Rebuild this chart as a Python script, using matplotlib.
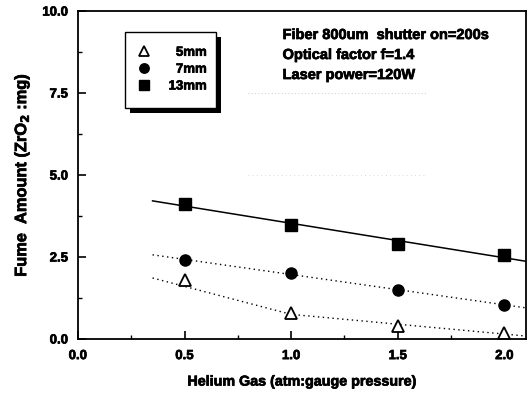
#!/usr/bin/env python3

import numpy as np
import matplotlib
matplotlib.use("Agg")
import matplotlib.pyplot as plt
import matplotlib.patheffects as pe
from matplotlib.patches import Rectangle

########################################################################################################################

pressure = [0.5, 1.0, 1.5, 2.0]
fume5 = [1.80, 0.79, 0.40, 0.18]
fume7 = [2.41, 2.00, 1.49, 1.04]
fume13 = [4.12, 3.48, 2.90, 2.56]

# dotted curve through the 5mm points
curve5_x = [0.35, 1.0, 1.5, 2.1]
curve5_y = [1.86, 0.75, 0.45, 0.09]

labels = ['\u20075mm', '\u20077mm', '13mm']
notes = ['Fiber 800um  shutter on=200s', 'Optical factor f=1.4', 'Laser power=120W']

########################################################################################################################

plt.rcParams['font.family'] = ['Liberation Sans', 'DejaVu Sans']
plt.rcParams['font.weight'] = 'bold'
heavy = [pe.withStroke(linewidth=0.5, foreground='black')]

fig = plt.figure(figsize=(5.3, 3.96), dpi=100)
ax = fig.add_axes([0.147, 0.144, 0.845, 0.828])

fitX = np.array([0.35, 2.1])
k13 = np.polyfit(pressure, fume13, 1)
k7 = np.polyfit(pressure, fume7, 1)
ax.plot(fitX, np.polyval(k13, fitX), color='black', lw=1.1)
ax.plot(fitX, np.polyval(k7, fitX), color='black', lw=1.0, ls=(0, (1, 2.5)))
ax.plot(curve5_x, curve5_y, color='black', lw=1.0, ls=(0, (1, 2.5)))

h5, = ax.plot(pressure, fume5, ls='none', marker='^', ms=8, mfc='white', mec='black', mew=1.3)
h7, = ax.plot(pressure, fume7, ls='none', marker='o', ms=8, mfc='black', mec='black')
h13, = ax.plot(pressure, fume13, ls='none', marker='s', ms=8, mfc='black', mec='black')

# faint scan grid remnants
ax.axhline(7.5, xmin=0.38, xmax=0.78, color='#bbbbbb', lw=0.6, ls=(0, (1, 3)))
ax.axhline(5.0, xmin=0.38, xmax=0.78, color='#cccccc', lw=0.6, ls=(0, (1, 4)))

ax.set_xlim(0, 2.1)
ax.set_ylim(0, 10)
ax.set_xticks([0.0, 0.5, 1.0, 1.5, 2.0])
ax.set_yticks([0.0, 2.5, 5.0, 7.5, 10.0])
ax.set_xticks(np.arange(0.25, 2.1, 0.5), minor=True)
ax.set_yticks(np.arange(1.25, 10, 2.5), minor=True)
ax.set_xticklabels(['0.0', '0.5', '1.0', '1.5', '2.0'])
ax.set_yticklabels(['0.0', '2.5', '5.0', '7.5', '10.0'])
ax.tick_params(which='major', direction='in', length=6, width=1.2, labelsize=9.5)
ax.tick_params(axis='x', which='major', pad=8)
ax.tick_params(axis='y', which='major', pad=7)
ax.tick_params(which='minor', direction='in', length=3, width=1.0)
for lbl in ax.get_xticklabels() + ax.get_yticklabels():
    lbl.set_fontweight('bold')
    lbl.set_path_effects(heavy)
for s in ax.spines.values():
    s.set_linewidth(1.3)

ax.set_xlabel('Helium Gas (atm:gauge pressure)', fontsize=10.3, fontweight='bold', labelpad=9,
              path_effects=heavy)
ax.set_ylabel('Fume  Amount (ZrO$_2$ :mg)', fontsize=11.8, fontweight='bold', labelpad=8,
              path_effects=heavy)

# legend box with shadow
ax.add_patch(Rectangle((0.116, 0.689), 0.203, 0.232, transform=ax.transAxes,
                       facecolor='black', edgecolor='none', zorder=4))
ax.add_patch(Rectangle((0.105, 0.704), 0.203, 0.232, transform=ax.transAxes,
                       facecolor='white', edgecolor='black', lw=1.0, zorder=5))
leg = ax.legend([h5, h7, h13], labels, loc='upper left', bbox_to_anchor=(0.12, 0.908),
                frameon=False, fontsize=9.5, handletextpad=1.4, labelspacing=0.35,
                handlelength=1.0, borderaxespad=0, markerscale=0.85)
leg.set_zorder(6)
for t in leg.get_texts():
    t.set_fontweight('bold')
    t.set_path_effects(heavy)

for i, note in enumerate(notes):
    ax.text(0.457, 0.927 - i * 0.061, note, transform=ax.transAxes, fontsize=10.5, fontweight='bold',
            va='center', ha='left', zorder=7, path_effects=heavy)

fig.savefig('out.png', dpi=100)
